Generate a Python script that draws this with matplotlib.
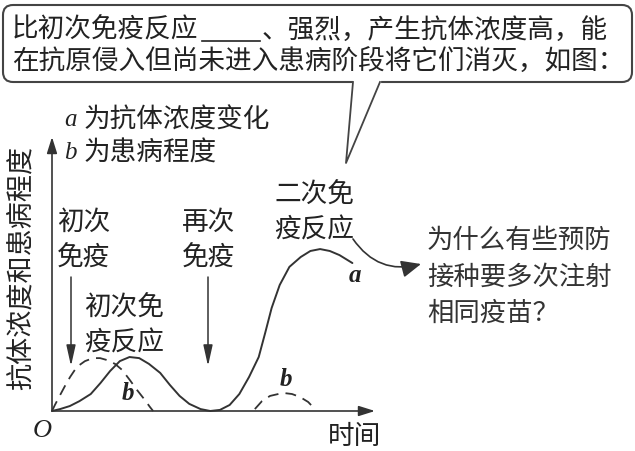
import matplotlib
matplotlib.use("Agg")
import matplotlib.pyplot as plt
from matplotlib.patches import FancyBboxPatch

plt.rcParams["font.family"] = ["Noto Sans CJK SC", "DejaVu Sans"]

INK = "#222222"
LINE = "#333333"

# curve a: antibody concentration (time, level)
a_time = [0, 0.25, 0.55, 0.85, 1.2, 1.5, 1.8, 2.1, 2.4, 2.7, 3.0, 3.35, 3.65, 3.95,
          4.25, 4.6, 4.9, 5.2, 5.5, 5.8, 6.1, 6.4, 6.6, 6.8, 7.05, 7.35, 7.7, 8.0,
          8.3, 8.6, 8.9, 9.3]
a_level = [0, 0.07, 0.18, 0.36, 0.62, 1.02, 1.46, 1.82, 1.97, 1.93, 1.72, 1.39, 0.95,
           0.55, 0.26, 0.07, 0.0, 0.04, 0.22, 0.62, 1.24, 1.97, 2.85, 3.76, 4.60, 5.26,
           5.62, 5.84, 5.91, 5.84, 5.69, 5.40]

# curve b: disease degree, first and second infection
b1_time = [0, 0.09, 0.25, 0.40, 0.56, 0.77, 1.02, 1.27, 1.49, 1.70, 1.95, 2.17, 2.41,
           2.63, 2.85, 3.03, 3.13]
b1_level = [0, 0.22, 0.58, 0.91, 1.24, 1.61, 1.82, 1.93, 1.93, 1.86, 1.72, 1.50, 1.13,
            0.77, 0.44, 0.15, 0.0]
b2_time = [6.28, 6.50, 6.75, 7.15, 7.43, 7.68, 7.93, 8.14]
b2_level = [0.07, 0.36, 0.55, 0.66, 0.62, 0.51, 0.33, 0.07]

box_line1_a = "比初次免疫反应"
box_line1_b = "、强烈，产生抗体浓度高，能"
box_line2 = "在抗原侵入但尚未进入患病阶段将它们消灭，如图："
question = ["为什么有些预防", "接种要多次注射", "相同疫苗？"]

W, H = 635, 451
fig = plt.figure(figsize=(W / 100, H / 100), dpi=100, facecolor="white")

# overlay in pixel coordinates for the annotations
ov = fig.add_axes([0, 0, 1, 1])
ov.set_xlim(0, W)
ov.set_ylim(H, 0)
ov.axis("off")
ov.patch.set_alpha(0)

# plot area: origin at (52, 411), axis ends at x=375 and y=137
x0, y0, x1, y1 = 52, 411, 375, 137
ax = fig.add_axes([x0 / W, (H - y0) / H, (x1 - x0) / W, (y0 - y1) / H])
ax.set_xlim(0, 10)
ax.set_ylim(0, 10)
ax.axis("off")
ax.patch.set_alpha(0)

ax.plot(a_time, a_level, color=LINE, lw=1.4, solid_capstyle="round", clip_on=False)
ax.plot(b1_time, b1_level, color=LINE, lw=1.3, ls=(0, (6, 4)), clip_on=False)
ax.plot(b2_time, b2_level, color=LINE, lw=1.3, ls=(0, (6, 4)), clip_on=False)

axis_arrow = dict(arrowstyle="-|>,head_length=0.7,head_width=0.22", color=LINE,
                  lw=1.2, shrinkA=0, shrinkB=0, mutation_scale=14)
ax.annotate("", xy=(1, 0), xytext=(0, 0), xycoords="axes fraction", arrowprops=axis_arrow)
ax.annotate("", xy=(0, 1), xytext=(0, 0), xycoords="axes fraction", arrowprops=axis_arrow)

FS = 19.2
serif_it = dict(family="Liberation Serif", style="italic", weight="bold", color=INK)

# callout box with tail
box = FancyBboxPatch((3, 5), 629, 77, boxstyle="round,pad=0,rounding_size=10",
                     fc="white", ec="#444444", lw=1.5)
ov.add_patch(box)
ov.plot([354.5, 378.5], [82, 82], color="white", lw=3)
ov.plot([353, 346, 380], [82, 163, 82], color="#444444", lw=1.3)
ov.text(12, 30, box_line1_a, fontsize=FS, color=INK, va="center", ha="left")
ov.plot([202, 260], [41, 41], color=INK, lw=1.2)
ov.text(262, 30, box_line1_b, fontsize=FS, color=INK, va="center", ha="left")
ov.text(12, 62, box_line2, fontsize=FS, color=INK, va="center", ha="left")

# legend text
ov.text(64, 120, "a", fontsize=18, va="center", ha="left", family="Liberation Serif",
        style="italic", color=INK)
ov.text(84, 120, "为抗体浓度变化", fontsize=FS, color=INK, va="center", ha="left")
ov.text(64, 153, "b", fontsize=18, va="center", ha="left", family="Liberation Serif",
        style="italic", color=INK)
ov.text(84, 153, "为患病程度", fontsize=FS, color=INK, va="center", ha="left")

# axis labels
ov.text(22, 268, "抗体浓度和患病程度", fontsize=19.5, rotation=90, color=INK,
        va="center", ha="center")
ov.text(42, 431, "O", fontsize=19, va="center", ha="center", family="Liberation Serif",
        style="italic", color=INK)
ov.text(355, 437, "时间", fontsize=FS, color=INK, va="center", ha="center")


def label(x, ys, lines):
    for y, s in zip(ys, lines):
        ov.text(x, y, s, fontsize=FS, color=INK, va="center", ha="left")


label(57, [222, 258], ["初次", "免疫"])
label(84, [308, 343], ["初次免", "疫反应"])
label(182, [222, 258], ["再次", "免疫"])
label(274, [195, 230], ["二次免", "疫反应"])

ov.text(355, 276, "a", fontsize=18, va="center", ha="center", **serif_it)
ov.text(128, 393, "b", fontsize=18, va="center", ha="center", **serif_it)
ov.text(286, 379, "b", fontsize=18, va="center", ha="center", **serif_it)

down = dict(arrowstyle="-|>,head_length=0.9,head_width=0.2", color=LINE, lw=1.1,
            shrinkA=0, shrinkB=0, mutation_scale=14)
ov.annotate("", xy=(71, 366), xytext=(71, 277), arrowprops=down)
ov.annotate("", xy=(208, 366), xytext=(208, 277), arrowprops=down)

# curved pointer to the question
ov.annotate("", xy=(421, 264), xytext=(353, 239),
            arrowprops=dict(arrowstyle="-|>,head_length=0.8,head_width=0.35",
                            color=LINE, lw=1.2, shrinkA=0, shrinkB=0,
                            mutation_scale=15, connectionstyle="arc3,rad=0.35"))

for y, s in zip([240, 277, 313], question):
    ov.text(427, y, s, fontsize=19, color="#333333", va="center", ha="left",
            weight="light")

fig.savefig("out.png", dpi=100, facecolor="white")
